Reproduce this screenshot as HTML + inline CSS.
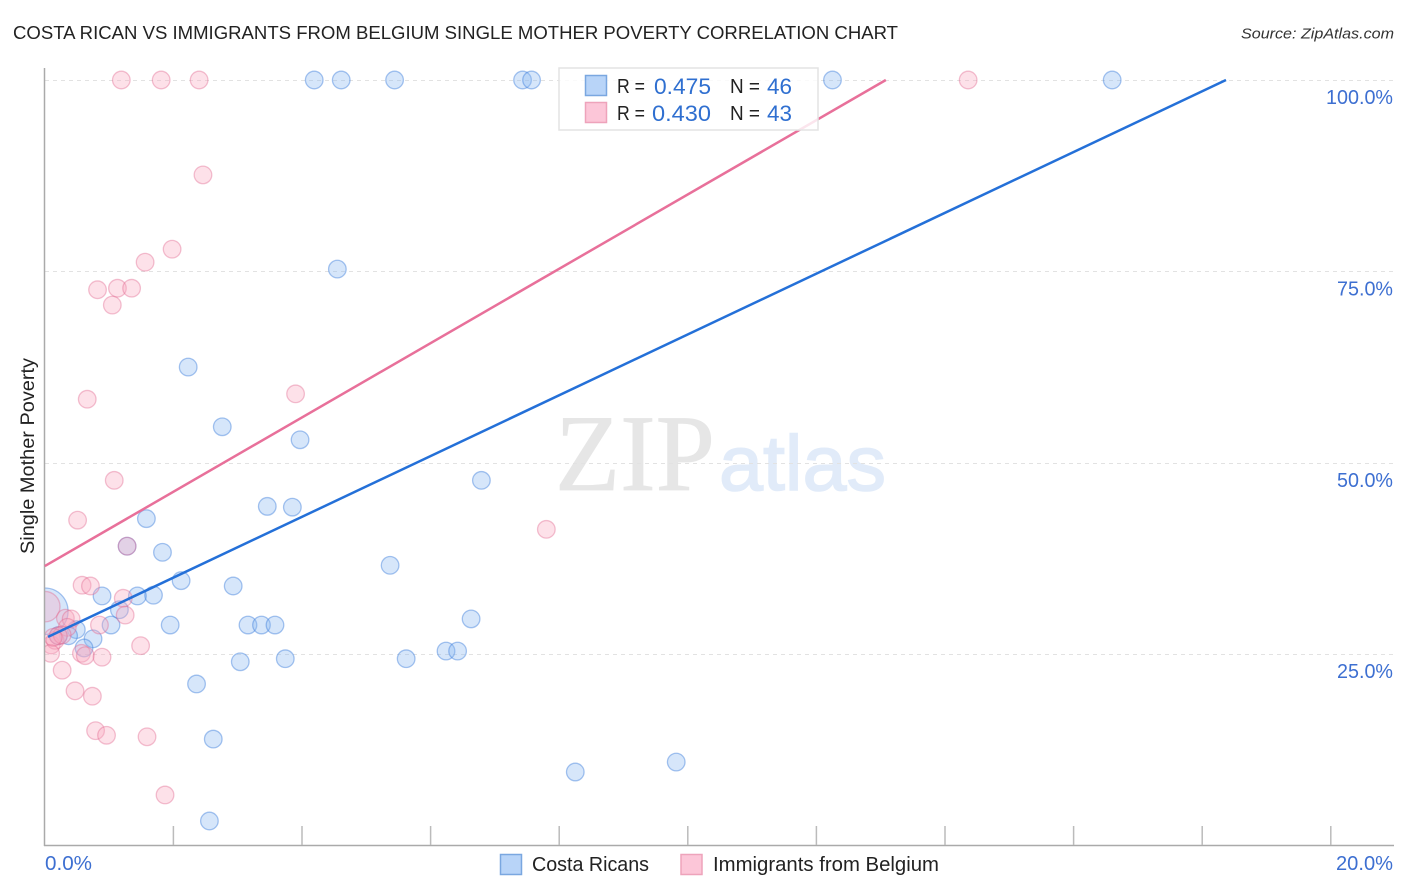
<!DOCTYPE html>
<html>
<head>
<meta charset="utf-8">
<title>Costa Rican vs Immigrants from Belgium Single Mother Poverty Correlation Chart</title>
<style>
html,body{margin:0;padding:0;background:#fff;width:1406px;height:892px;overflow:hidden}
svg{display:block;font-family:"Liberation Sans",sans-serif}
</style>
</head>
<body>
<svg id="chart" width="1406" height="892" viewBox="0 0 1406 892" xmlns="http://www.w3.org/2000/svg">
<text x="13" y="39" font-size="18.5" fill="#222" textLength="885" lengthAdjust="spacingAndGlyphs">COSTA RICAN VS IMMIGRANTS FROM BELGIUM SINGLE MOTHER POVERTY CORRELATION CHART</text>
<text x="1394" y="38.500" font-size="15" font-style="italic" fill="#333" text-anchor="end" textLength="153" lengthAdjust="spacingAndGlyphs">Source: ZipAtlas.com</text>
<g>
<text x="555" y="490" font-family="'Liberation Serif',serif" font-size="109" fill="#e6e6e6" stroke="#e6e6e6" stroke-width="0.8" textLength="160" lengthAdjust="spacingAndGlyphs">ZIP</text>
<text x="719" y="490" font-size="78" fill="#e1ebf9" stroke="#e1ebf9" stroke-width="1.5" textLength="167" lengthAdjust="spacingAndGlyphs">atlas</text>
</g>
<g id="grid"></g>
<g id="marks"></g>
<rect x="0" y="560" width="44" height="120" fill="#fff"/>
<g id="axes"></g>
<g id="trends"></g>
<text transform="translate(34 456) rotate(-90)" font-size="19" fill="#222" text-anchor="middle" textLength="196" lengthAdjust="spacingAndGlyphs">Single Mother Poverty</text>
<g>
<rect x="559" y="68" width="259" height="62" fill="#fff" fill-opacity="0.82" stroke="#e3e3e3" stroke-width="1.5"/>
<rect x="585.500" y="75.500" width="21" height="20" fill="#b8d4f8" stroke="#7aa7e0" stroke-width="1.500"/>
<rect x="585.500" y="102.500" width="21" height="20" fill="#fcc6d8" stroke="#eea3bb" stroke-width="1.500"/>
<text x="617" y="93" font-size="20" fill="#222" textLength="28" lengthAdjust="spacingAndGlyphs">R =</text>
<text x="654" y="94" font-size="22" fill="#2f6fd0" textLength="57" lengthAdjust="spacingAndGlyphs">0.475</text>
<text x="730" y="93" font-size="20" fill="#222" textLength="30" lengthAdjust="spacingAndGlyphs">N =</text>
<text x="767" y="94" font-size="22" fill="#2f6fd0" textLength="25" lengthAdjust="spacingAndGlyphs">46</text>
<text x="617" y="120" font-size="20" fill="#222" textLength="28" lengthAdjust="spacingAndGlyphs">R =</text>
<text x="652" y="121" font-size="22" fill="#2f6fd0" textLength="59" lengthAdjust="spacingAndGlyphs">0.430</text>
<text x="730" y="120" font-size="20" fill="#222" textLength="30" lengthAdjust="spacingAndGlyphs">N =</text>
<text x="767" y="121" font-size="22" fill="#2f6fd0" textLength="25" lengthAdjust="spacingAndGlyphs">43</text>
</g>
<g>
<rect x="500.500" y="854.500" width="21" height="20" fill="#b8d4f8" stroke="#7aa7e0" stroke-width="1.500"/>
<text x="532" y="871" font-size="20" fill="#222" textLength="117" lengthAdjust="spacingAndGlyphs">Costa Ricans</text>
<rect x="681" y="854.500" width="21" height="20" fill="#fcc6d8" stroke="#eea3bb" stroke-width="1.500"/>
<text x="713" y="871" font-size="20" fill="#222" textLength="226" lengthAdjust="spacingAndGlyphs">Immigrants from Belgium</text>
</g>
</svg>
<script>
const yTicks = [25, 50, 75, 100];
const yTickLabels = ["25.0%", "50.0%", "75.0%", "100.0%"];
const xTicks = [2, 4, 6, 8, 10, 12, 14, 16, 18, 20];
const xEndLabels = ["0.0%", "20.0%"];
const blueX = [0,4.19,4.61,5.44,7.43,7.57,12.25,16.60,4.55,2.23,2.76,3.97,6.79,3.46,3.85,1.58,1.28,1.83,5.37,2.12,2.93,1.69,1.44,0.89,1.16,6.63,1.03,1.95,3.16,3.37,3.58,0.49,0.75,0.37,0.21,0.61,6.24,6.42,5.62,3.74,3.04,2.36,2.62,8.25,9.82,2.56];
const blueY = [30.6,100,100,100,100,100,100,100,75.3,62.5,54.7,53.0,47.7,44.3,44.2,42.7,39.1,38.3,36.6,34.6,33.9,32.7,32.6,32.6,30.8,29.6,28.8,28.8,28.8,28.8,28.8,28.2,27.0,27.4,27.4,25.8,25.4,25.4,24.4,24.4,24.0,21.1,13.9,9.6,10.9,3.2];
const blueWeight = [7];
const pinkX = [0,1.19,1.81,2.40,14.36,2.46,1.98,1.56,0.82,1.13,1.35,1.05,0.66,3.90,1.08,0.51,7.80,1.28,0.58,0.71,1.22,1.25,0.32,0.41,0.85,0.35,1.49,0.57,0.63,0.89,0.10,0.16,0.09,0.27,0.47,0.74,0.79,0.96,1.59,1.87,0.21,0.27,0.13];
const pinkY = [31.2,100,100,100,100,87.6,77.9,76.2,72.6,72.8,72.8,70.6,58.3,59.0,47.7,42.5,41.3,39.1,34.0,33.9,32.3,30.1,29.7,29.6,28.8,28.5,26.1,25.1,24.8,24.6,26.2,26.8,25.1,22.9,20.2,19.5,15.0,14.4,14.2,6.6,27.4,27.5,27.2];
const pinkWeight = [3];
const blueTrendX = [0.05, 18.37];
const blueTrendY = [27.25, 100];
const pinkTrendX = [0, 13.08];
const pinkTrendY = [36.5, 100];

const NS = 'http://www.w3.org/2000/svg';
function xScale(v){ return 44.8 + v * 64.3; }
function yScale(v){ return 845.5 - v * 7.655; }
function make(parent, tag, attrs, text){
  const el = document.createElementNS(NS, tag);
  for (const k in attrs) el.setAttribute(k, attrs[k]);
  if (text !== undefined) el.textContent = text;
  parent.appendChild(el);
  return el;
}
const grid = document.getElementById('grid');
const axes = document.getElementById('axes');
const marks = document.getElementById('marks');
const trends = document.getElementById('trends');

yTicks.forEach(function(t, i){
  const gy = Math.round(yScale(t)) + 0.5;
  const line = make(grid, 'line', {x1: 45, x2: 1393, y1: gy, y2: gy, stroke: '#e2e2e2', 'stroke-width': 1, 'stroke-dasharray': '4 4'});
  
  
  const label = make(axes, 'text', {x: 1393, y: yScale(t) + 24, 'font-size': 20, fill: '#3d6fd1', 'text-anchor': 'end', textLength: t === 100 ? 67 : 56, lengthAdjust: 'spacingAndGlyphs'}, yTickLabels[i]);
  
  
});

const yAxis = make(axes, 'line', {x1: 44.5, x2: 44.5, y1: 68, y2: 846, stroke: '#aaa', 'stroke-width': 1.5});


const xAxis = make(axes, 'line', {x1: 44, x2: 1394, y1: 845.5, y2: 845.5, stroke: '#aaa', 'stroke-width': 1.5});



xTicks.forEach(function(t){
  const tick = make(axes, 'line', {x1: xScale(t), x2: xScale(t), y1: 826, y2: 845, stroke: '#bbb', 'stroke-width': 1.5});
  
  
});

const xLabelLeft = make(axes, 'text', {x: 45, y: 870, 'font-size': 20, fill: '#3d6fd1', textLength: 47, lengthAdjust: 'spacingAndGlyphs'}, xEndLabels[0]);


const xLabelRight = make(axes, 'text', {x: 1393, y: 870, 'font-size': 20, fill: '#3d6fd1', 'text-anchor': 'end', textLength: 57, lengthAdjust: 'spacingAndGlyphs'}, xEndLabels[1]);



function radius(weights, i){
  const w = i < weights.length ? weights[i] : 1;
  return 8.8 * Math.sqrt(w);
}
blueX.forEach(function(x, i){
  const c = make(marks, 'circle', {cx: xScale(x), cy: yScale(blueY[i]), r: radius(blueWeight, i), fill: '#8ab8f0', 'fill-opacity': 0.35, stroke: '#3f7fdc', 'stroke-opacity': 0.45, 'stroke-width': 1.3});
  
  
});
pinkX.forEach(function(x, i){
  const c = make(marks, 'circle', {cx: xScale(x), cy: yScale(pinkY[i]), r: radius(pinkWeight, i), fill: '#f8a8c0', 'fill-opacity': 0.35, stroke: '#e0668f', 'stroke-opacity': 0.4, 'stroke-width': 1.3});
  
  
});

const blueLine = make(trends, 'line', {x1: xScale(blueTrendX[0]), y1: yScale(blueTrendY[0]), x2: xScale(blueTrendX[1]), y2: yScale(blueTrendY[1]), stroke: '#2470d8', 'stroke-width': 2.5});


const pinkLine = make(trends, 'line', {x1: xScale(pinkTrendX[0]), y1: yScale(pinkTrendY[0]), x2: xScale(pinkTrendX[1]), y2: yScale(pinkTrendY[1]), stroke: '#e8709a', 'stroke-width': 2.5});


</script>
</body>
</html>
